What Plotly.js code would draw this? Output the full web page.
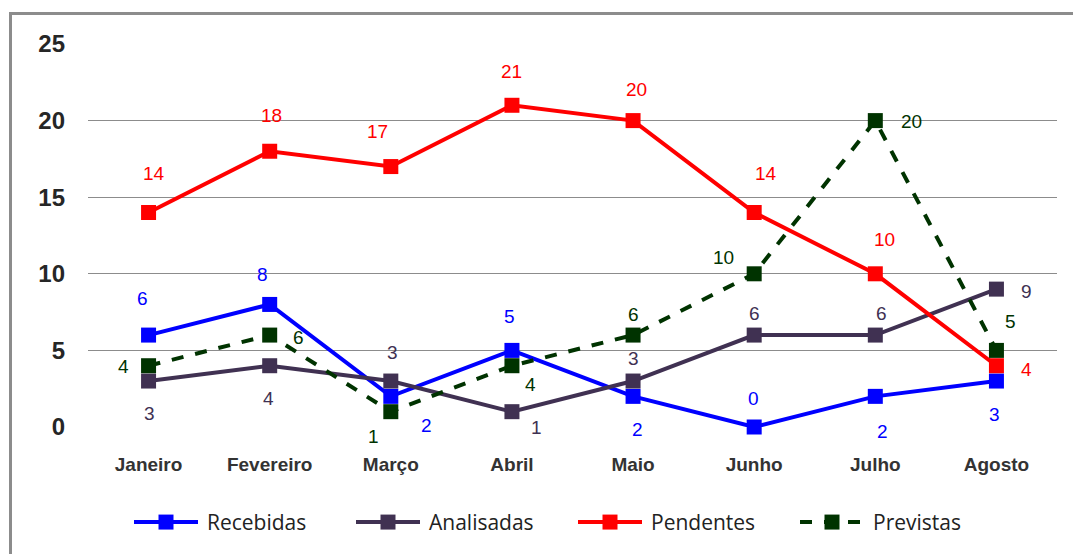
<!DOCTYPE html>
<html>
<head>
<meta charset="utf-8">
<script src="https://cdn.plot.ly/plotly-3.0.1.min.js"></script>
<style>
html,body{margin:0;padding:0;background:#fff;overflow:hidden;width:1073px;height:554px;}
#chart{width:1073px;height:554px;position:absolute;left:0;top:0;}
#frame{position:absolute;left:9px;top:12px;width:2000px;height:2000px;border:3px solid #8c8c8c;pointer-events:none;}
</style>
</head>
<body>
<div id="chart"></div>
<div id="frame"></div>
<script>
// ---- data ----
const months = ["Janeiro","Fevereiro","Março","Abril","Maio","Junho","Julho","Agosto"];
const seriesNames = ["Recebidas","Analisadas","Pendentes","Previstas"];
const recebidas  = [6, 8, 2, 5, 2, 0, 2, 3];
const analisadas = [3, 4, 3, 1, 3, 6, 6, 9];
const pendentes  = [14, 18, 17, 21, 20, 14, 10, 4];
const previstas  = [4, 6, 1, 4, 6, 10, 20, 5];
const yTicks = [0, 5, 10, 15, 20, 25];

// ---- styling (label offsets in px, per point) ----
const colors = ["#0000ff", "#403152", "#ff0000", "#003300"];
const dashes = ["solid", "solid", "solid", "dash"];
const labelOffsets = [
  [[-6,-37],[-7,-30],[36,29],[-2,-34],[4,33],[-1,-29],[7,35],[-2,33]],
  [[1,32],[-1,33],[2,-29],[25,16],[0,-23],[0,-22],[6,-22],[30,2]],
  [[5,-39],[2,-36],[-13,-35],[0,-34],[3,-31],[12,-39],[9,-34],[30,4]],
  [[-25,1],[29,2],[-17,25],[19,19],[0,-21],[-31,-16],[36,1],[14,-29]]
];

const allSeries = [recebidas, analisadas, pendentes, previstas];

const traces = allSeries.map((vals, i) => ({
  type: "scatter",
  mode: "lines+markers",
  name: seriesNames[i],
  x: months,
  y: vals,
  line: {color: colors[i], width: 4, dash: dashes[i]},
  marker: {symbol: "square", size: 15, color: colors[i]},
  cliponaxis: false
}));

const annotations = [];
allSeries.forEach((vals, i) => {
  vals.forEach((v, j) => {
    annotations.push({
      x: months[j], y: v, xref: "x", yref: "y",
      text: String(v), showarrow: false,
      xshift: labelOffsets[i][j][0], yshift: -labelOffsets[i][j][1],
      font: {family: "Liberation Sans, Arial, sans-serif", size: 19, color: colors[i]}
    });
  });
});

const layout = {
  width: 1073, height: 554,
  margin: {l: 88, r: 16, t: 44, b: 127},
  paper_bgcolor: "#ffffff",
  plot_bgcolor: "#ffffff",
  showlegend: true,
  legend: {
    orientation: "h",
    xref: "container", yref: "container",
    x: 129 / 1073, xanchor: "left",
    y: 0.057, yanchor: "middle",
    font: {family: "Open Sans, Noto Sans, sans-serif", size: 21, color: "#222"},
    itemwidth: 68,
    entrywidth: 139,
    entrywidthmode: "pixels",
    tracegroupgap: 0
  },
  xaxis: {
    type: "category",
    range: [-0.5, 7.5],
    showgrid: false,
    zeroline: false,
    showline: false,
    ticks: "",
    ticklabelstandoff: 24,
    tickfont: {family: "Liberation Sans, Arial, sans-serif", size: 19, color: "#333333", weight: "bold"}
  },
  yaxis: {
    range: [0, 25],
    tickvals: yTicks,
    ticktext: yTicks.map(String),
    showgrid: true,
    gridcolor: "#8c8c8c",
    gridwidth: 1,
    zeroline: false,
    showline: false,
    ticks: "",
    ticklabelstandoff: 22,
    tickfont: {family: "Liberation Sans, Arial, sans-serif", size: 24, color: "#262626", weight: "bold"}
  },
  annotations: annotations
};

Plotly.newPlot("chart", traces, layout, {displayModeBar: false, staticPlot: true}).then(gd => {
  // lengthen legend sample lines and center the marker on them
  gd.querySelectorAll(".legend .legendlines path").forEach(p => p.setAttribute("d", "M5,0h64"));
  gd.querySelectorAll(".legend .legendpoints path").forEach(p => p.setAttribute("transform", "translate(37,0)"));
});
</script>
</body>
</html>
